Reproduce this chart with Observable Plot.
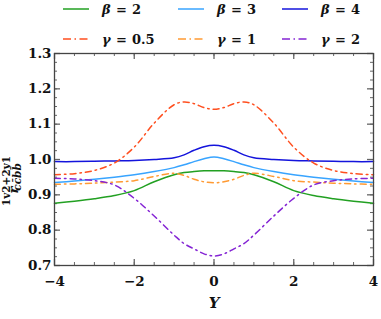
<!DOCTYPE html>
<html>
<head>
<meta charset="utf-8">
<script src="https://cdn.jsdelivr.net/npm/d3@7"></script>
<script src="https://cdn.jsdelivr.net/npm/@observablehq/plot@0.6"></script>
<style>
  body { margin: 0; background: #fff; }
  #wrap { width: 381px; height: 319px; position: relative; }
  svg { display: block; }
  #legend { position: absolute; left: 0; top: 0; }
</style>
</head>
<body>
<div id="wrap"></div>
<script>
// ---- data ----
const Y = [-4, -3.5, -3, -2.5, -2, -1.5, -1, -0.75, -0.5, -0.25, 0, 0.25, 0.5, 0.75, 1, 1.5, 2, 2.5, 3, 3.5, 4];
const beta2   = [0.876, 0.882, 0.889, 0.898, 0.912, 0.937, 0.957, 0.963, 0.966, 0.968, 0.968, 0.968, 0.966, 0.963, 0.957, 0.937, 0.912, 0.898, 0.889, 0.882, 0.876];
const beta3   = [0.935, 0.939, 0.944, 0.950, 0.957, 0.966, 0.977, 0.985, 0.994, 1.002, 1.007, 1.002, 0.994, 0.985, 0.977, 0.966, 0.957, 0.950, 0.944, 0.939, 0.935];
const beta4   = [0.994, 0.994, 0.995, 0.996, 0.997, 1.000, 1.005, 1.013, 1.026, 1.036, 1.040, 1.036, 1.026, 1.013, 1.005, 1.000, 0.997, 0.996, 0.995, 0.994, 0.994];
const gamma05 = [0.957, 0.960, 0.969, 0.990, 1.035, 1.103, 1.155, 1.163, 1.158, 1.147, 1.142, 1.147, 1.158, 1.163, 1.155, 1.103, 1.035, 0.990, 0.969, 0.960, 0.957];
const gamma1  = [0.930, 0.931, 0.933, 0.936, 0.940, 0.952, 0.961, 0.955, 0.944, 0.937, 0.934, 0.937, 0.944, 0.955, 0.961, 0.952, 0.940, 0.936, 0.933, 0.931, 0.930];
const gamma2  = [0.947, 0.945, 0.940, 0.928, 0.890, 0.840, 0.786, 0.762, 0.747, 0.733, 0.727, 0.733, 0.747, 0.762, 0.786, 0.840, 0.890, 0.928, 0.940, 0.945, 0.947];

const xTicks = [-4, -2, 0, 2, 4];
const yTicks = [0.7, 0.8, 0.9, 1.0, 1.1, 1.2, 1.3];

const series = [
  {sym: "β", val: "2",   values: beta2,   color: "#22a022", dash: null},
  {sym: "β", val: "3",   values: beta3,   color: "#38a4ff", dash: null},
  {sym: "β", val: "4",   values: beta4,   color: "#1414dc", dash: null},
  {sym: "γ", val: "0.5", values: gamma05, color: "#ff4f1f", dash: "6,4,1.5,4"},
  {sym: "γ", val: "1",   values: gamma1,  color: "#ff9a33", dash: "6,4,1.5,4"},
  {sym: "γ", val: "2",   values: gamma2,  color: "#8424d4", dash: "6,4,1.5,4"}
];

const FONT = "DejaVu Serif";
const wrap = document.getElementById("wrap");

// ---- plot ----
const W = 381, H = 319, mT = 53, mB = 54, mL = 54, mR = 8;
const innerW = W - mL - mR, innerH = H - mT - mB;
const minorX = d3.range(-4, 4.001, 0.5);
const minorY = d3.range(0, 25).map(i => +(0.7 + i * 0.025).toFixed(3));

const lineMarks = series.map(s =>
  Plot.line(Y.map((y, i) => ({Y: y, r: s.values[i]})), {
    x: "Y", y: "r", stroke: s.color, strokeWidth: 1.5,
    strokeDasharray: s.dash, curve: "catmull-rom"
  })
);

const tickColor = "#666";
const chart = Plot.plot({
  width: W, height: H,
  marginTop: mT, marginBottom: mB, marginLeft: mL, marginRight: mR,
  x: {domain: [-4, 4]},
  y: {domain: [0.7, 1.3]},
  style: {fontFamily: FONT, fontWeight: "bold", fontSize: "13.5px", color: "#111", background: "#fff"},
  marks: [
    // minor ticks
    Plot.tickX(minorX, {x: d => d, insetTop: innerH - 3, stroke: tickColor}),
    Plot.tickX(minorX, {x: d => d, insetBottom: innerH - 3, stroke: tickColor}),
    Plot.tickY(minorY, {y: d => d, insetRight: innerW - 3, stroke: tickColor}),
    Plot.tickY(minorY, {y: d => d, insetLeft: innerW - 3, stroke: tickColor}),
    // major ticks
    Plot.tickX(xTicks, {x: d => d, insetTop: innerH - 6, stroke: tickColor, strokeWidth: 1.3}),
    Plot.tickX(xTicks, {x: d => d, insetBottom: innerH - 6, stroke: tickColor, strokeWidth: 1.3}),
    Plot.tickY(yTicks, {y: d => d, insetRight: innerW - 6, stroke: tickColor, strokeWidth: 1.3}),
    Plot.tickY(yTicks, {y: d => d, insetLeft: innerW - 6, stroke: tickColor, strokeWidth: 1.3}),
    ...lineMarks,
    Plot.frame({stroke: "#444", strokeWidth: 1.3}),
    Plot.axisX(xTicks, {tickSize: 0, tickPadding: 11, label: null,
      tickFormat: d => d < 0 ? "\u2212" + (-d) : String(d)}),
    Plot.axisY(yTicks, {tickSize: 0, tickPadding: 3, label: null,
      tickFormat: d3.format(".1f")}),
    Plot.text(["Y"], {frameAnchor: "bottom", dy: 42, text: d => d,
      fontStyle: "italic", fontSize: 15, fill: "#111"})
  ]
});
wrap.appendChild(chart);

// y-axis title: r^{1v2+2v1}_{c c̄ b b̄}
const svg = d3.select(chart);
const g = svg.append("g")
  .attr("transform", `translate(18,190) rotate(-90)`)
  .attr("font-family", FONT).attr("font-weight", "bold").attr("fill", "#111");
g.append("text").attr("x", 0).attr("y", 0).attr("font-size", 13).attr("font-style", "italic").text("r");
g.append("text").attr("x", 9).attr("y", -8).attr("font-size", 10.5).text("1v2+2v1");
g.append("text").attr("x", 13).attr("y", 3).attr("font-size", 10.5).attr("font-style", "italic").text("cc\u0304bb\u0304");

// ---- legend (overlaid above the plot frame) ----
const leg = d3.create("svg").attr("id", "legend").attr("width", 381).attr("height", 48)
  .attr("font-family", FONT).attr("font-weight", "bold").attr("font-size", 13);
const colX = [63, 178, 282];
const rowY = [9, 39];
series.forEach((s, i) => {
  const cx = colX[i % 3], cy = rowY[Math.floor(i / 3)];
  leg.append("line").attr("x1", cx).attr("x2", cx + 26).attr("y1", cy).attr("y2", cy)
    .attr("stroke", s.color).attr("stroke-width", 1.5)
    .attr("stroke-dasharray", s.dash ? "8,3.5,1.5,3.5" : null);
  const t = leg.append("text").attr("y", cy + 4.5).attr("fill", "#111");
  t.append("tspan").attr("x", cx + 39).attr("font-style", "italic").text(s.sym);
  t.append("tspan").attr("x", cx + 53).text("=");
  t.append("tspan").attr("x", cx + 69).text(s.val);
});
wrap.appendChild(leg.node());
</script>
</body>
</html>
